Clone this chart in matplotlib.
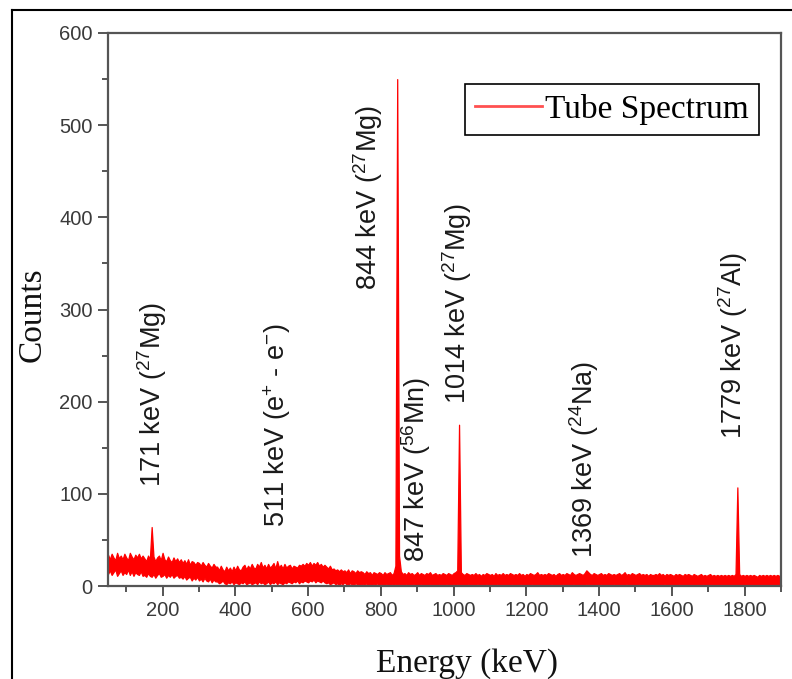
import numpy as np
import matplotlib
matplotlib.use("Agg")
import matplotlib.pyplot as plt
from matplotlib.lines import Line2D

# Espectro, en bandas de 5 keV (50 a 1900 keV):
# maximo y minimo de cuentas dentro de cada banda (el ruido forma una franja)
energy_start, energy_stop, energy_step = 50, 1900, 5
counts_hi = [
    34, 29, 35, 31, 28, 36, 30, 33, 29, 35, 31, 28, 36, 32, 29, 34, 31, 35, 30, 33,   # 50-145
    30, 27, 33, 29, 64, 32, 27, 31, 33, 28, 36, 29, 27, 32, 28, 26, 31, 27, 30, 26,   # 150-245
    29, 25, 28, 24, 29, 23, 27, 26, 23, 26, 25, 22, 26, 23, 21, 25, 22, 20, 24, 21,   # 250-345
    21, 17, 22, 18, 16, 21, 17, 20, 16, 21, 17, 22, 18, 17, 21, 23, 18, 22, 19, 24,   # 350-445
    20, 19, 24, 21, 26, 20, 23, 19, 24, 20, 22, 25, 19, 27, 20, 23, 19, 24, 20, 22,   # 450-545
    23, 19, 22, 21, 20, 23, 22, 24, 22, 25, 23, 26, 22, 25, 23, 26, 22, 24, 21, 23,   # 550-645
    21, 19, 22, 18, 19, 17, 18, 16, 18, 16, 17, 15, 18, 14, 17, 16, 14, 17, 15, 16,   # 650-745
    15, 13, 16, 14, 15, 12, 15, 14, 13, 15, 14, 12, 15, 13, 14, 15, 12, 14, 22, 550,  # 750-845
    33, 16, 13, 14, 12, 15, 13, 14, 12, 13, 15, 12, 14, 13, 12, 14, 13, 15, 12, 13,   # 850-945
    14, 12, 13, 12, 14, 13, 12, 14, 13, 12, 14, 15, 17, 175, 15, 13, 12, 14, 13, 12,  # 950-1045
    13, 12, 14, 12, 13, 11, 13, 12, 14, 13, 12, 13, 11, 14, 12, 13, 12, 14, 12, 13,   # 1050-1145
    12, 14, 13, 12, 13, 12, 14, 12, 13, 11, 13, 12, 14, 13, 12, 13, 15, 12, 13, 12,   # 1150-1245
    13, 12, 14, 13, 12, 13, 11, 13, 14, 12, 13, 12, 14, 13, 12, 15, 13, 12, 13, 14,   # 1250-1345
    13, 12, 14, 17, 15, 13, 12, 14, 13, 12, 13, 14, 12, 13, 12, 14, 13, 12, 13, 12,   # 1350-1445
    13, 14, 12, 13, 15, 12, 13, 12, 14, 13, 12, 13, 14, 12, 13, 12, 13, 11, 13, 12,   # 1450-1545
    12, 13, 12, 14, 12, 13, 11, 13, 12, 13, 12, 11, 13, 12, 13, 12, 11, 13, 12, 13,   # 1550-1645
    12, 11, 13, 12, 11, 12, 13, 11, 12, 11, 12, 13, 11, 12, 11, 12, 11, 12, 11, 12,   # 1650-1745
    11, 12, 11, 12, 11, 13, 107, 13, 11, 12, 11, 12, 11, 12, 11, 12, 11, 10, 12, 11,  # 1750-1845
    12, 11, 12, 11, 12, 11, 12, 11, 12, 11, 12,                                       # 1850-1900
]
counts_lo = [
    13, 17, 12, 15, 18, 11, 14, 17, 12, 15, 13, 18, 12, 16, 11, 15, 13, 12, 16, 11,   # 50-145
    12, 10, 14, 11, 10, 13, 9, 12, 14, 10, 11, 13, 9, 12, 10, 13, 9, 11, 12, 9,       # 150-245
    10, 8, 11, 7, 9, 10, 6, 9, 7, 10, 6, 8, 5, 9, 6, 5, 8, 4, 7, 5,                   # 250-345
    5, 3, 4, 6, 3, 2, 4, 3, 5, 2, 4, 3, 2, 4, 3, 5, 2, 3, 4, 2,                       # 350-445
    3, 4, 2, 5, 3, 4, 2, 3, 5, 2, 4, 3, 5, 2, 4, 3, 2, 4, 3, 5,                       # 450-545
    4, 3, 5, 4, 6, 3, 5, 4, 6, 5, 4, 6, 5, 7, 4, 6, 5, 4, 6, 4,                       # 550-645
    3, 4, 2, 3, 4, 2, 3, 1, 3, 2, 4, 2, 1, 3, 2, 1, 3, 2, 1, 2,                       # 650-745
    2, 1, 3, 1, 2, 0, 2, 1, 3, 1, 2, 0, 1, 2, 1, 0, 2, 1, 2, 2,                       # 750-845
    2, 1, 0, 1, 2, 0, 1, 0, 2, 1, 0, 1, 2, 0, 1, 0, 1, 2, 0, 1,                       # 850-945
    0, 1, 2, 0, 1, 0, 2, 1, 0, 1, 2, 1, 2, 2, 1, 0, 1, 0, 2, 1,                       # 950-1045
    0, 1, 0, 2, 1, 0, 1, 0, 2, 1, 0, 1, 0, 1, 2, 0, 1, 0, 1, 0,                       # 1050-1145
    1, 0, 2, 0, 1, 0, 1, 2, 0, 1, 0, 1, 0, 2, 1, 0, 1, 0, 1, 0,                       # 1150-1245
    0, 1, 0, 1, 2, 0, 1, 0, 1, 0, 2, 1, 0, 1, 0, 1, 2, 0, 1, 0,                       # 1250-1345
    1, 0, 1, 2, 2, 1, 0, 1, 0, 1, 0, 2, 1, 0, 1, 0, 1, 0, 2, 1,                       # 1350-1445
    0, 1, 0, 1, 0, 2, 1, 0, 1, 0, 1, 0, 2, 1, 0, 1, 0, 1, 0, 1,                       # 1450-1545
    0, 1, 0, 1, 0, 1, 2, 0, 1, 0, 1, 0, 1, 0, 2, 1, 0, 1, 0, 1,                       # 1550-1645
    0, 1, 0, 1, 0, 1, 0, 2, 1, 0, 1, 0, 1, 0, 1, 0, 1, 0, 1, 0,                       # 1650-1745
    1, 0, 1, 0, 1, 1, 1, 1, 0, 1, 0, 1, 0, 1, 0, 1, 0, 1, 0, 1,                       # 1750-1845
    0, 1, 0, 1, 0, 1, 0, 1, 0, 1, 0,                                                  # 1850-1900
]
energy = np.arange(energy_start, energy_stop + energy_step, energy_step)

# Etiquetas de los picos: posicion (keV), altura de la base del texto y texto
label_energy = [171, 516, 764, 898, 1010, 1359, 1768]
label_counts = [107, 64, 321, 26, 198, 30, 160]
label_text = [
    r"171 keV ($^{27}$Mg)",
    r"511 keV (e$^{+}$ - e$^{-}$)",
    r"844 keV ($^{27}$Mg)",
    r"847 keV ($^{56}$Mn)",
    r"1014 keV ($^{27}$Mg)",
    r"1369 keV ($^{24}$Na)",
    r"1779 keV ($^{27}$Al)",
]

x_ticks = [200, 400, 600, 800, 1000, 1200, 1400, 1600, 1800]
y_ticks = [0, 100, 200, 300, 400, 500, 600]

plt.rcParams["font.family"] = ["Liberation Sans", "DejaVu Sans"]
plt.rcParams["mathtext.fontset"] = "custom"
plt.rcParams["mathtext.rm"] = "Liberation Sans"
plt.rcParams["mathtext.it"] = "Liberation Sans:italic"

fig = plt.figure(figsize=(7.92, 6.79), dpi=100)
ax = fig.add_axes([108 / 792, 1 - 586 / 679, (781 - 108) / 792, (586 - 33) / 679])

red = "#ff0000"
ax.fill_between(energy, counts_lo, counts_hi, facecolor=red, edgecolor=red, lw=0.9)

for xe, yc, txt in zip(label_energy, label_counts, label_text):
    ax.text(xe, yc, txt, rotation=90, ha="center", va="bottom",
            fontsize=19.5, color="#1a1a1a")

ax.set_xlim(50, 1900)
ax.set_ylim(0, 600)
ax.set_xticks(x_ticks)
ax.set_yticks(y_ticks)
ax.set_xticks([t + 100 for t in [0] + x_ticks], minor=True)
ax.set_yticks([t + 50 for t in y_ticks[:-1]], minor=True)

gray = "#555555"
for s in ax.spines.values():
    s.set_color(gray)
    s.set_linewidth(1.6)
ax.tick_params(which="major", direction="out", length=7, width=1.4,
               color=gray, labelcolor="#3a3a3a", labelsize=14.5, pad=4)
ax.tick_params(which="minor", direction="out", length=4, width=1.4, color=gray)

ax.set_xlabel("Energy (keV)", family="Liberation Serif", fontsize=24, color="#111111")
ax.set_ylabel("Counts", family="Liberation Serif", fontsize=24, color="#111111")
ax.xaxis.set_label_coords(0.533, -0.112)
ax.yaxis.set_label_coords(-0.089, 0.49)

handle = Line2D([], [], color="#ff5050", lw=2.0)
leg = ax.legend([handle], ["Tube Spectrum"], loc="upper right",
                bbox_to_anchor=(0.967, 0.908), fancybox=False,
                edgecolor="black", framealpha=1, handlelength=2.0, handletextpad=0.1,
                borderpad=0.3, borderaxespad=0,
                prop={"family": "Liberation Serif", "size": 24})
leg.get_frame().set_linewidth(1.2)

# Marco negro exterior de la figura
fig.add_artist(Line2D([12 / 792, 12 / 792], [0, 1 - 10 / 679], color="black", lw=1.5))
fig.add_artist(Line2D([12 / 792, 1], [1 - 10 / 679, 1 - 10 / 679], color="black", lw=1.5))

fig.savefig("out.png", dpi=100)
